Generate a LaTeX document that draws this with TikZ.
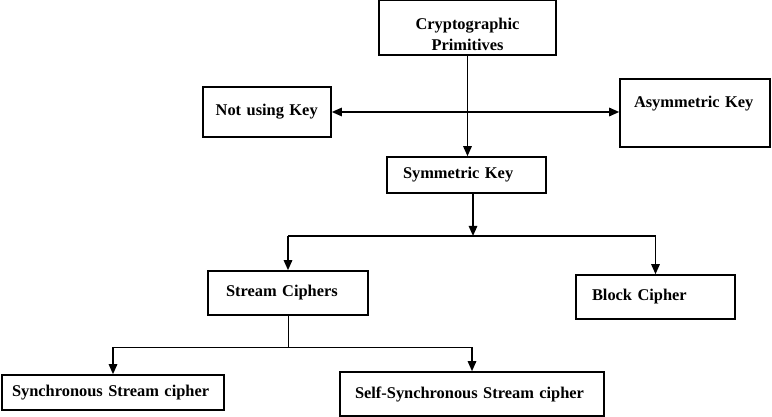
\documentclass[tikz,border=0pt]{standalone}
\usepackage{fontspec}
\setmainfont{Liberation Serif}
\usetikzlibrary{arrows.meta}

\begin{document}
\begin{tikzpicture}[
    box/.style = {draw, line width=1.3pt, font=\fontsize{14}{18}\selectfont\bfseries, align=left},
    thinline/.style = {line width=0.8pt},
    link/.style = {line width=1.5pt, -{Triangle[length=0.3cm,width=0.25cm]}}
  ]
  \useasboundingbox (0,0) rectangle (23.16,-12.51);

  \node[box, align=center, text width=4.51cm, inner xsep=0.4cm, minimum height=1.65cm] (prim) at (14.025,-0.825) {\rule{0pt}{0.74cm}Cryptographic\\Primitives};
  \node[box, text width=3.08cm, inner xsep=0.38cm, minimum height=1.5cm] (nokey) at (8.01,-3.36) {Not using Key};
  \node[box, text width=3.66cm, inner xsep=0.42cm, inner ysep=0.5cm, text height=0.35cm, text depth=0.69cm] (asym) at (20.85,-3.39) {Asymmetric Key};
  \node[box, text width=3.81cm, inner xsep=0.48cm, minimum height=1.08cm] (sym) at (13.995,-5.25) {Symmetric Key};
  \node[box, text width=3.72cm, inner xsep=0.54cm, minimum height=1.32cm] (stream) at (8.64,-8.79) {Stream Ciphers};
  \node[box, text width=3.81cm, inner xsep=0.48cm, minimum height=1.32cm] (block) at (19.665,-8.91) {Block Cipher};
  \node[box, text width=6.06cm, inner xsep=0.3cm, minimum height=1.05cm] (sync) at (3.39,-11.775) {Synchronous Stream cipher};
  \node[box, text width=7.02cm, inner xsep=0.45cm, minimum height=1.32cm] (self) at (14.16,-11.82) {Self-Synchronous Stream cipher};

  \coordinate (fork) at (14.19,-7.08);
  \coordinate (fork2) at (stream.south |- 0,-10.41);

  % top level
  \draw[thinline] (prim.south) -- (prim.south |- nokey.east);
  \draw[link] (prim.south |- nokey.east) -- (prim.south |- sym.north);
  \draw[link, {Triangle[length=0.3cm,width=0.25cm]}-{Triangle[length=0.3cm,width=0.25cm]}] (nokey.east) -- (asym.west |- nokey.east);

  % symmetric key split
  \draw[link] (fork |- sym.south) -- (fork);
  \draw[line width=1.5pt] (stream.north |- fork) -- (block.north |- fork);
  \draw[link] (stream.north |- fork) -- (stream.north);
  \draw[link] (block.north |- fork) -- (block.north);

  % stream cipher split
  \draw[thinline] (stream.south) -- (fork2);
  \draw[thinline] (sync.north |- fork2) -- (self.north |- fork2);
  \draw[link] (sync.north |- fork2) -- (sync.north);
  \draw[link] (self.north |- fork2) -- (self.north);
\end{tikzpicture}
\end{document}
